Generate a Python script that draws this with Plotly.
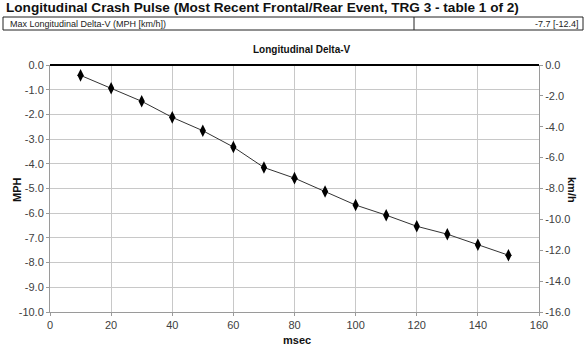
import plotly.graph_objects as go

# Data
msec = [10, 20, 30, 40, 50, 60, 70, 80, 90, 100, 110, 120, 130, 140, 150]
delta_v_mph = [-0.42, -0.94, -1.47, -2.12, -2.66, -3.32, -4.15, -4.58, -5.12, -5.67,
               -6.08, -6.53, -6.85, -7.28, -7.70]
left_ticks = [0, -1, -2, -3, -4, -5, -6, -7, -8, -9, -10]
right_ticks = [0, -2, -4, -6, -8, -10, -12, -14, -16]
x_ticks = [0, 20, 40, 60, 80, 100, 120, 140, 160]

main_title = "Longitudinal Crash Pulse (Most Recent Frontal/Rear Event, TRG 3 - table 1 of 2)"
row_label = "Max Longitudinal Delta-V (MPH [km/h])"
row_value = "-7.7 [-12.4]"
chart_title = "Longitudinal Delta-V"

W, H = 586, 350
ML, MR, MT, MB = 50, 47, 65, 38
PW = W - ML - MR
PH = H - MT - MB


def px(x):
    return (x - ML) / PW


def py(y):
    return (H - MB - y) / PH


FONT = "Liberation Sans, Arial, sans-serif"
TICKC = "#404040"

fig = go.Figure()
fig.add_trace(go.Scatter(
    x=msec, y=delta_v_mph, mode="lines+markers",
    line=dict(color="#333333", width=1),
    marker=dict(symbol="diamond-tall", size=9, color="black"),
    showlegend=False, hoverinfo="x+y",
))
# invisible trace to activate right axis
fig.add_trace(go.Scatter(x=[None], y=[None], yaxis="y2", showlegend=False))

fig.update_layout(
    width=W, height=H,
    margin=dict(l=ML, r=MR, t=MT, b=MB),
    paper_bgcolor="white", plot_bgcolor="white",
    font=dict(family=FONT, size=11, color=TICKC),
    xaxis=dict(
        range=[0, 160], tickvals=x_ticks, ticktext=[str(v) for v in x_ticks],
        showgrid=True, gridcolor="#c8c8c8", gridwidth=1,
        showline=True, linecolor="#9a9a9a", linewidth=1, mirror=False,
        zeroline=False, ticks="outside", ticklen=3, tickcolor="#9a9a9a",
        tickfont=dict(size=11, color=TICKC, family=FONT),
        fixedrange=True,
    ),
    yaxis=dict(
        range=[-10, 0], tickvals=left_ticks,
        ticktext=["%.1f" % v for v in left_ticks],
        showgrid=True, gridcolor="#c8c8c8", gridwidth=1,
        showline=True, linecolor="#9a9a9a", linewidth=1,
        zeroline=False, ticks="outside", ticklen=3, tickcolor="#9a9a9a",
        tickfont=dict(size=11, color=TICKC, family=FONT),
        fixedrange=True,
    ),
    yaxis2=dict(
        range=[-16, 0], tickvals=right_ticks,
        ticktext=["%.1f" % v for v in right_ticks],
        overlaying="y", side="right", showgrid=False,
        showline=True, linecolor="#9a9a9a", linewidth=1,
        zeroline=False, ticks="outside", ticklen=3, tickcolor="#9a9a9a",
        tickfont=dict(size=11, color=TICKC, family=FONT),
        fixedrange=True,
    ),
)

# top black border line (0 line)
fig.add_shape(type="line", xref="paper", yref="paper", x0=0, x1=1, y0=1, y1=1,
              line=dict(color="black", width=2))

# header table row
fig.add_shape(type="rect", xref="paper", yref="paper",
              x0=px(3), x1=px(583), y0=py(17), y1=py(30),
              line=dict(color="#222222", width=1), fillcolor="rgba(0,0,0,0)")
fig.add_shape(type="line", xref="paper", yref="paper",
              x0=px(414), x1=px(414), y0=py(17), y1=py(30),
              line=dict(color="#222222", width=1))

annos = [
    dict(text="<b>%s</b>" % main_title, x=px(4), y=py(8), xanchor="left", yanchor="middle",
         font=dict(size=13.6, color="#111111", family=FONT)),
    dict(text=row_label, x=px(8), y=py(23.5), xanchor="left", yanchor="middle",
         font=dict(size=9, color="#222222", family=FONT)),
    dict(text=row_value, x=px(581), y=py(23.5), xanchor="right", yanchor="middle",
         font=dict(size=9, color="#222222", family=FONT)),
    dict(text="<b>%s</b>" % chart_title, x=px(302), y=py(49), xanchor="center", yanchor="middle",
         font=dict(size=10, color="#111111", family=FONT)),
    dict(text="<b>msec</b>", x=px(297), y=py(340), xanchor="center", yanchor="middle",
         font=dict(size=11, color="#111111", family=FONT)),
    dict(text="<b>MPH</b>", x=px(17), y=py(190), xanchor="center", yanchor="middle",
         textangle=-90, font=dict(size=11, color="#111111", family=FONT)),
    dict(text="<b>km/h</b>", x=px(572), y=py(190), xanchor="center", yanchor="middle",
         textangle=90, font=dict(size=11, color="#111111", family=FONT)),
]
for a in annos:
    fig.add_annotation(xref="paper", yref="paper", showarrow=False, **a)

fig.write_html("out.html")
